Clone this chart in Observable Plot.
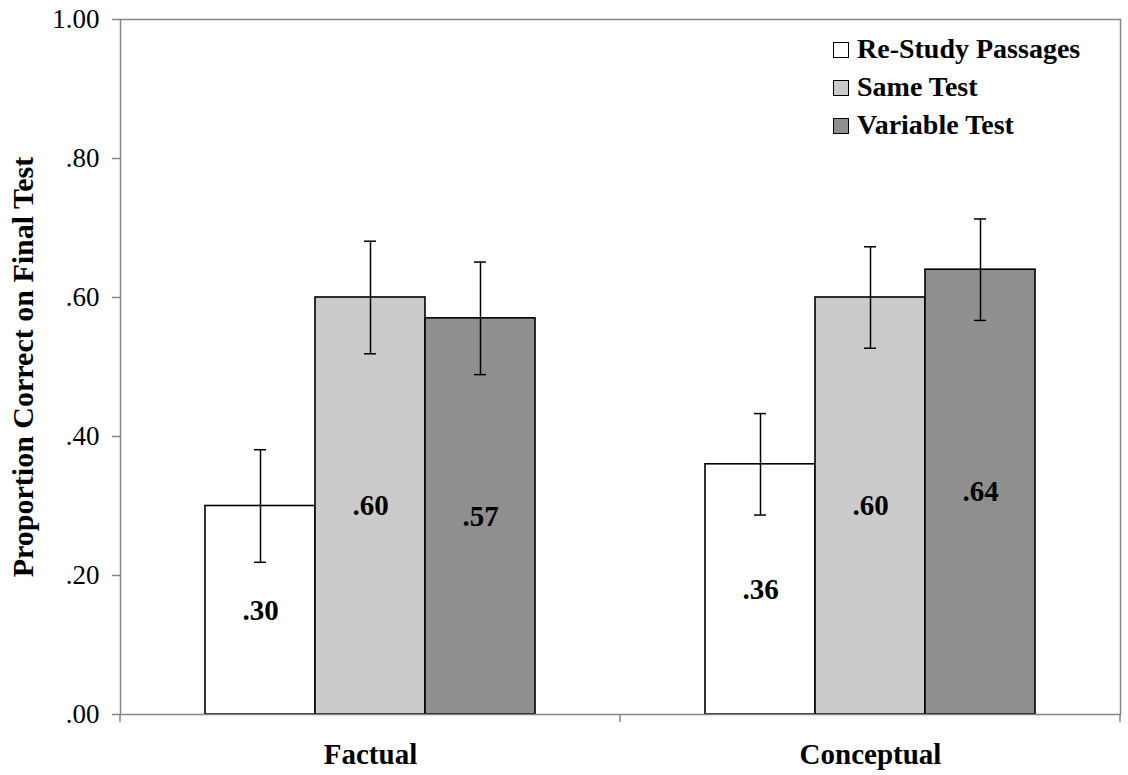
<!DOCTYPE html>
<html>
<head>
<meta charset="utf-8">
<script src="https://cdn.jsdelivr.net/npm/d3@7"></script>
<script src="https://cdn.jsdelivr.net/npm/@observablehq/plot@0.6"></script>
<style>
  html, body { margin: 0; padding: 0; background: #fff; }
  #wrap { position: relative; width: 1128px; height: 775px; }
  #legend { position: absolute; left: 833px; top: 30px; font-family: "Liberation Serif", serif; font-weight: bold; font-size: 28px; color: #000; }
  #legend .row { display: flex; align-items: center; height: 38px; line-height: 38px; white-space: nowrap; }
  #legend .sw { width: 14px; height: 14px; border: 1.5px solid #000; margin-right: 8px; margin-top: 2px; }
</style>
</head>
<body>
<div id="wrap"><div id="legend"></div></div>
<script>
// ---- data ----
const categories = ["Factual", "Conceptual"];
const conditions = ["Re-Study Passages", "Same Test", "Variable Test"];
const factualMeans = [0.30, 0.60, 0.57];
const conceptualMeans = [0.36, 0.60, 0.64];
const factualErrors = [0.081, 0.081, 0.081];
const conceptualErrors = [0.073, 0.073, 0.073];
const yTicks = [0, 0.2, 0.4, 0.6, 0.8, 1.0];
const yTickLabels = [".00", ".20", ".40", ".60", ".80", "1.00"];
const yTitle = "Proportion Correct on Final Test";
const fills = ["#ffffff", "#cbcbcb", "#8f8f8f"];
const axisGrey = "#858585";

const rows = [];
categories.forEach((cat, ci) => {
  const means = ci === 0 ? factualMeans : conceptualMeans;
  const errs = ci === 0 ? factualErrors : conceptualErrors;
  conditions.forEach((cond, k) => rows.push({category: cat, condition: cond, value: means[k], err: errs[k]}));
});
const fmt = v => d3.format(".2f")(v).replace(/^0/, "");

const plot = Plot.plot({
  width: 1128,
  height: 775,
  marginLeft: 120,
  marginRight: 8,
  marginTop: 19,
  marginBottom: 61,
  style: {fontFamily: "'Liberation Serif', serif", background: "white", color: "black", overflow: "visible"},
  fx: {domain: categories, padding: 0, axis: null, label: null},
  x: {domain: conditions, paddingInner: 0, paddingOuter: 0.755, axis: null},
  y: {domain: [0, 1], axis: null},
  color: {domain: conditions, range: fills},
  marks: [
    Plot.barY(rows, {fx: "category", x: "condition", y: "value", fill: "condition", stroke: "black", strokeWidth: 1.6}),
    Plot.ruleX(rows, {fx: "category", x: "condition", y1: d => d.value - d.err, y2: d => d.value + d.err, stroke: "black", strokeWidth: 1.5}),
    Plot.tickY(rows, {fx: "category", x: "condition", y: d => d.value - d.err, stroke: "black", strokeWidth: 1.5, insetLeft: 49, insetRight: 49}),
    Plot.tickY(rows, {fx: "category", x: "condition", y: d => d.value + d.err, stroke: "black", strokeWidth: 1.5, insetLeft: 49, insetRight: 49}),
    Plot.text(rows, {fx: "category", x: "condition", y: d => d.value / 2, text: d => fmt(d.value), fontSize: 29, fontWeight: "bold", fill: "black"}),
    Plot.frame({facet: "super", stroke: axisGrey, strokeWidth: 1.5}),
    Plot.axisY({ticks: yTicks, tickFormat: (d) => yTickLabels[yTicks.indexOf(d)], tickSize: 8, tickPadding: 13, fontSize: 27, label: null, stroke: axisGrey, strokeWidth: 1.5}),
    Plot.axisFx({anchor: "bottom", tickSize: 0, tickPadding: 29, fontSize: 29, fontWeight: "bold", label: null}),
    Plot.text([yTitle], {facet: "super", frameAnchor: "left", textAnchor: "middle", rotate: -90, dx: -97, fontSize: 30, fontWeight: "bold", fill: "black"})
  ]
});

// category boundary ticks on the x axis, derived from the library's scales
const fxS = plot.scale("fx");
const yS = plot.scale("y");
const bounds = categories.map(c => fxS.apply(c)).concat([fxS.apply(categories[categories.length - 1]) + fxS.bandwidth]);
const y0 = yS.apply(0);
const g = d3.select(plot).append("g").attr("stroke", axisGrey).attr("stroke-width", 1.5);
bounds.forEach(b => g.append("line").attr("x1", b).attr("x2", b).attr("y1", y0).attr("y2", y0 + 8));

document.getElementById("wrap").prepend(plot);

// legend
const legend = d3.select("#legend");
conditions.forEach((c, i) => {
  const r = legend.append("div").attr("class", "row");
  r.append("div").attr("class", "sw").style("background", fills[i]);
  r.append("span").text(c);
});
</script>
</body>
</html>
